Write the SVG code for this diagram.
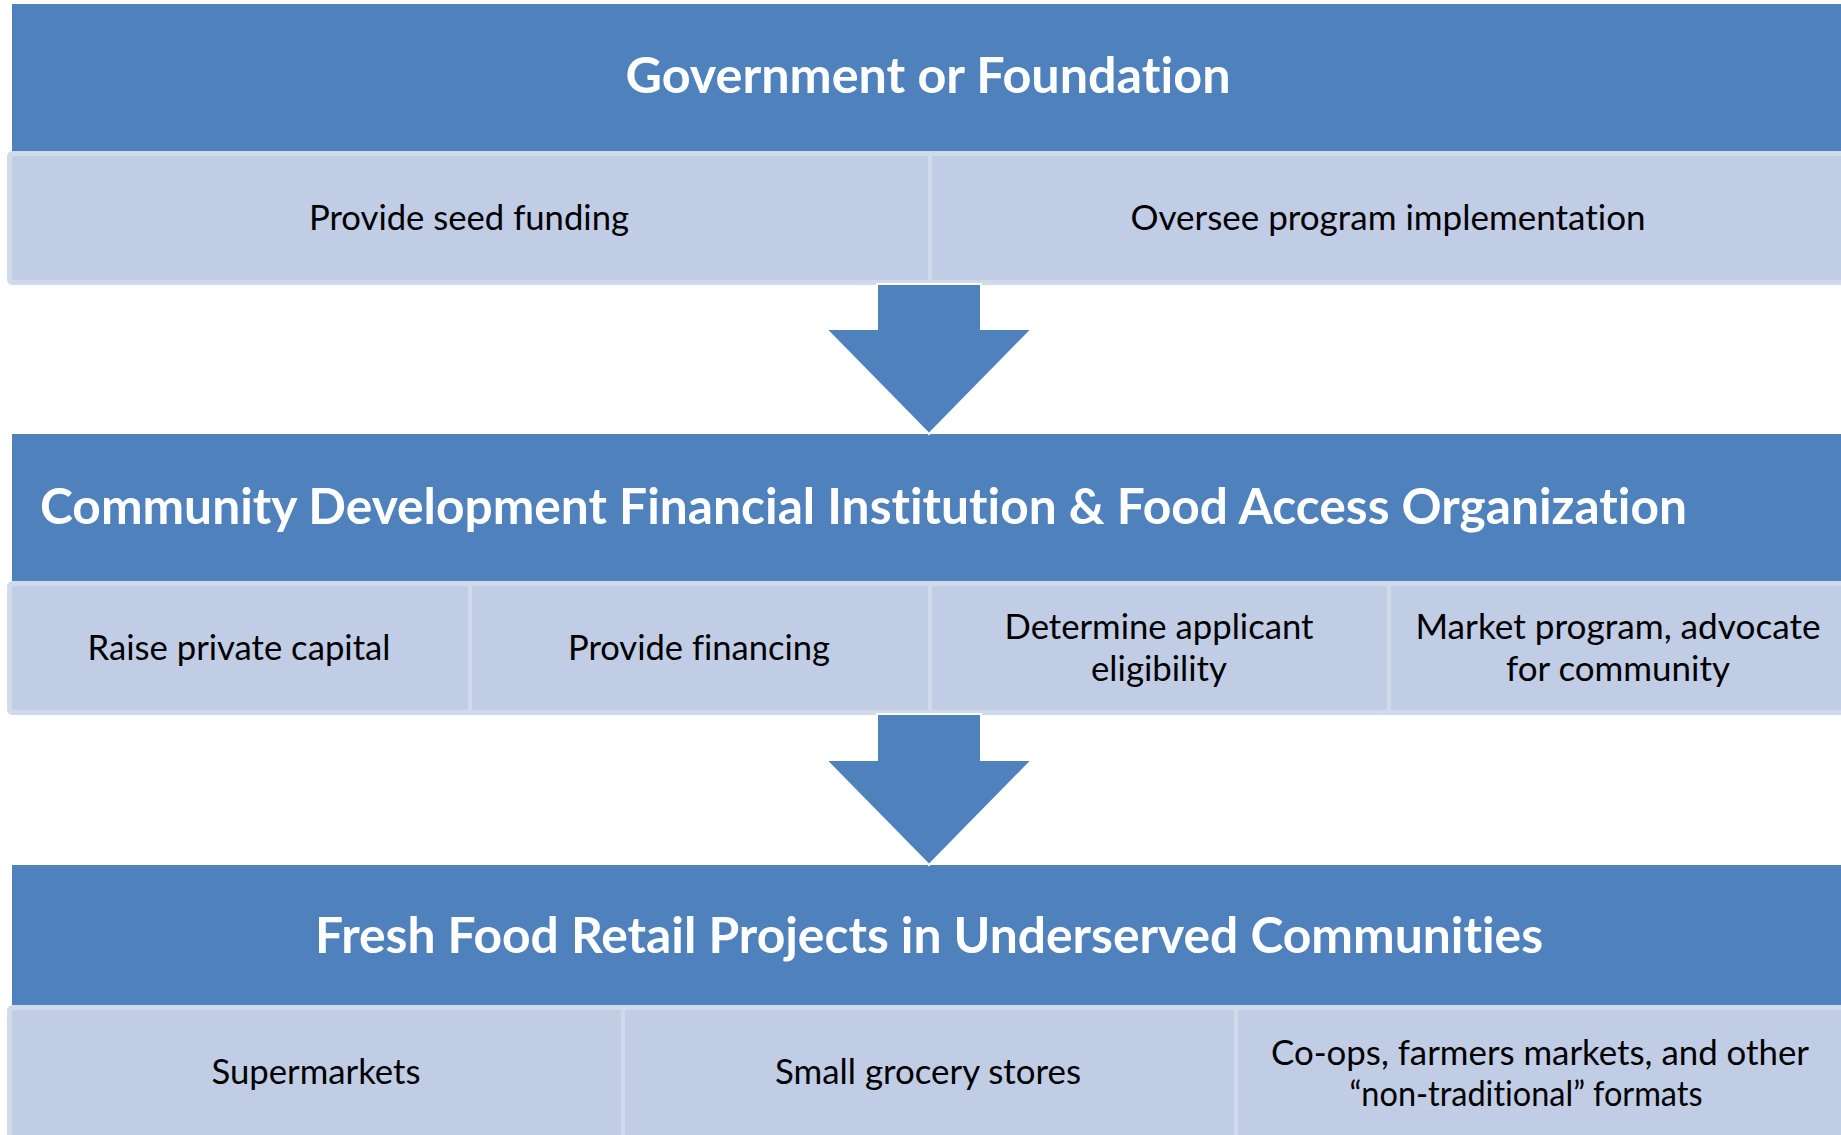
<svg xmlns="http://www.w3.org/2000/svg" width="1841" height="1135" viewBox="0 0 1841 1135">
<style>
.hdr{fill:#4F81BD;}
.row{fill:#C1CDE5;stroke:#D1DAEA;stroke-width:5;}
.div{stroke:#D1DAEA;stroke-width:4;}
text{font-variant-ligatures:none;}
.ht{font-family:Lato,"Liberation Sans",sans-serif;font-weight:700;font-size:49px;fill:#FFFFFF;}
.bt{font-family:Lato,"Liberation Sans",sans-serif;font-size:34.5px;fill:#000000;text-anchor:middle;}
.arrow{fill:#4F81BD;stroke:#FFFFFF;stroke-width:2;stroke-linejoin:miter;}
</style>
<rect x="0" y="0" width="1841" height="1135" fill="#FFFFFF"/>

<!-- Level 1 -->
<g id="level1">
  <g id="row1">
    <rect class="row" x="9.5" y="153.5" width="1845" height="129" rx="3"/>
    <line class="div" x1="930" y1="153" x2="930" y2="283"/>
  </g>
  <g id="header1">
    <rect class="hdr" x="12" y="4" width="1840" height="147"/>
    <text class="ht" x="928" y="93" text-anchor="middle" textLength="605" lengthAdjust="spacingAndGlyphs">Government or Foundation</text>
  </g>
  <g id="seed-funding"><text class="bt" x="469" y="230" textLength="320" lengthAdjust="spacingAndGlyphs">Provide seed funding</text></g>
  <g id="oversee"><text class="bt" x="1388" y="230" textLength="515" lengthAdjust="spacingAndGlyphs">Oversee program implementation</text></g>
</g>

<!-- Level 2 -->
<g id="level2">
  <g id="row2">
    <rect class="row" x="9.5" y="583.5" width="1845" height="129" rx="3"/>
    <line class="div" x1="470" y1="583" x2="470" y2="713"/>
    <line class="div" x1="930" y1="583" x2="930" y2="713"/>
    <line class="div" x1="1389" y1="583" x2="1389" y2="713"/>
  </g>
  <g id="header2">
    <rect class="hdr" x="12" y="434" width="1840" height="147"/>
    <text class="ht" x="40" y="524" textLength="1647" lengthAdjust="spacingAndGlyphs">Community Development Financial Institution &amp; Food Access Organization</text>
  </g>
  <g id="raise-capital"><text class="bt" x="239" y="660" textLength="303" lengthAdjust="spacingAndGlyphs">Raise private capital</text></g>
  <g id="financing"><text class="bt" x="699" y="660" textLength="262" lengthAdjust="spacingAndGlyphs">Provide financing</text></g>
  <g id="eligibility">
    <text class="bt" x="1159" y="639" textLength="309" lengthAdjust="spacingAndGlyphs">Determine applicant</text>
    <text class="bt" x="1159" y="681" textLength="136" lengthAdjust="spacingAndGlyphs">eligibility</text>
  </g>
  <g id="market">
    <text class="bt" x="1618" y="639" textLength="405" lengthAdjust="spacingAndGlyphs">Market program, advocate</text>
    <text class="bt" x="1618" y="681" textLength="224" lengthAdjust="spacingAndGlyphs">for community</text>
  </g>
</g>

<!-- Level 3 -->
<g id="level3">
  <g id="row3">
    <rect class="row" x="9.5" y="1007.5" width="1845" height="150" rx="3"/>
    <line class="div" x1="623" y1="1007" x2="623" y2="1140"/>
    <line class="div" x1="1236" y1="1007" x2="1236" y2="1140"/>
  </g>
  <g id="header3">
    <rect class="hdr" x="12" y="865" width="1840" height="140"/>
    <text class="ht" x="929" y="953" text-anchor="middle" textLength="1228" lengthAdjust="spacingAndGlyphs">Fresh Food Retail Projects in Underserved Communities</text>
  </g>
  <g id="supermarkets"><text class="bt" x="316" y="1084" textLength="209" lengthAdjust="spacingAndGlyphs">Supermarkets</text></g>
  <g id="grocery"><text class="bt" x="928" y="1084" textLength="306" lengthAdjust="spacingAndGlyphs">Small grocery stores</text></g>
  <g id="coops">
    <text class="bt" x="1540" y="1065" textLength="538" lengthAdjust="spacingAndGlyphs">Co-ops, farmers markets, and other</text>
    <text class="bt" x="1526" y="1106" textLength="353" lengthAdjust="spacingAndGlyphs">“non-traditional” formats</text>
  </g>
</g>

<!-- Connectors -->
<g id="connectors">
  <polygon class="arrow" points="877,284 981,284 981,329 1032,329 929,434 826,329 877,329"/>
  <polygon class="arrow" points="877,714 981,714 981,760 1032,760 929,865 826,760 877,760"/>
</g>
</svg>
